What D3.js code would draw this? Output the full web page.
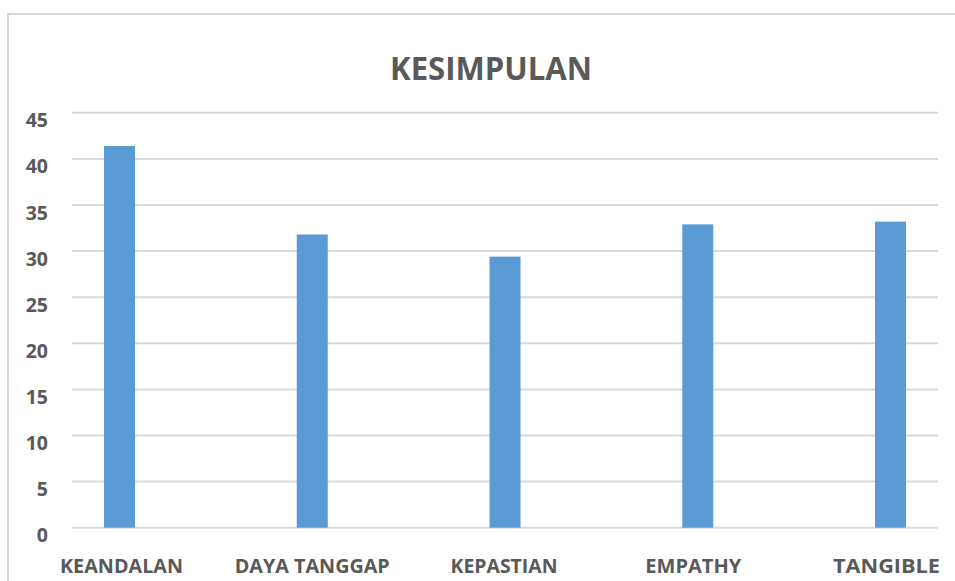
<!DOCTYPE html>
<html>
<head>
<meta charset="utf-8">
<script src="https://cdn.jsdelivr.net/npm/d3@7"></script>
<style>
html,body{margin:0;padding:0;background:#fff;}
svg{display:block;}
text{font-family:"Open Sans","Liberation Sans",sans-serif;font-weight:bold;fill:#595959;}
</style>
</head>
<body>
<svg id="chart" width="955" height="581"></svg>
<script>
const categories = ["KEANDALAN", "DAYA TANGGAP", "KEPASTIAN", "EMPATHY", "TANGIBLE"];
const values = [41.4, 31.8, 29.4, 32.9, 33.2];
const yTicks = [0, 5, 10, 15, 20, 25, 30, 35, 40, 45];
const title = "KESIMPULAN";
const labelWidths = [123, 155, 107, 96, 107];

const svg = d3.select("#chart");

// chart border
svg.append("rect")
  .attr("x", 8).attr("y", 14)
  .attr("width", 960).attr("height", 600)
  .attr("fill", "none").attr("stroke", "#d9d9d9").attr("stroke-width", 2);

const y = d3.scaleLinear().domain([0, 45]).range([527.7, 112.8]);
const x = d3.scalePoint().domain(categories).range([119.5, 890.5]);
const barW = 31;
const gridX0 = 72, gridX1 = 938;

// gridlines
svg.append("g").selectAll("line").data(yTicks).join("line")
  .attr("x1", gridX0).attr("x2", gridX1)
  .attr("y1", d => y(d)).attr("y2", d => y(d))
  .attr("stroke", "#d9d9d9").attr("stroke-width", 2);

// y tick labels
svg.append("g").selectAll("text").data(yTicks).join("text")
  .attr("x", 48).attr("y", d => y(d) + 14.5)
  .attr("text-anchor", "end")
  .style("font-size", "19.5px")
  .text(d => d);

// bars
svg.append("g").selectAll("rect").data(categories).join("rect")
  .attr("x", d => x(d) - barW / 2)
  .attr("width", barW)
  .attr("y", (d, i) => y(values[i]))
  .attr("height", (d, i) => y(0) - y(values[i]))
  .attr("fill", "#5b9bd5");

// category labels
svg.append("g").selectAll("text").data(categories).join("text")
  .attr("x", (d, i) => x(d) + [2, 0, -1, -4.5, -4][i])
  .attr("y", 573)
  .attr("text-anchor", "middle")
  .attr("textLength", (d, i) => labelWidths[i])
  .attr("lengthAdjust", "spacingAndGlyphs")
  .style("font-size", "19.5px")
  .text(d => d);

// title
svg.append("text")
  .attr("x", 491).attr("y", 79.5)
  .attr("text-anchor", "middle")
  .attr("textLength", 202)
  .attr("lengthAdjust", "spacingAndGlyphs")
  .style("font-size", "32.5px")
  .text(title);
</script>
</body>
</html>
